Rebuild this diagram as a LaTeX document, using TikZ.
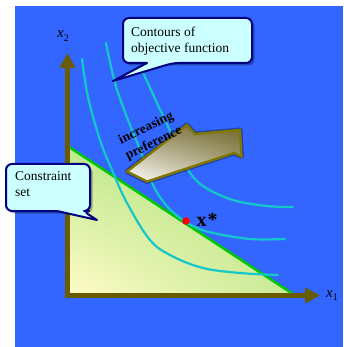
\documentclass[tikz,border=0pt]{standalone}
\usepackage{fontspec}
\setmainfont{Liberation Serif}
\usetikzlibrary{arrows.meta,shadings}
\definecolor{bgblue}{RGB}{51,102,255}
\definecolor{axisol}{RGB}{105,92,0}
\definecolor{contourc}{RGB}{20,200,200}
\definecolor{hypo}{RGB}{0,200,0}
\definecolor{callfill}{RGB}{204,255,255}
\definecolor{callline}{RGB}{0,0,128}
\definecolor{arrowline}{RGB}{128,118,0}
\definecolor{arrowdark}{RGB}{112,102,45}
\definecolor{arrowmidA}{RGB}{150,142,95}
\definecolor{arrowmidB}{RGB}{185,180,145}
\definecolor{csUL}{RGB}{192,232,142}
\definecolor{csLL}{RGB}{255,252,200}
\definecolor{csLR}{RGB}{200,234,150}
\definecolor{csUR}{RGB}{180,225,125}
\tikzset{
  contourline/.style={contourc, line width=2.2pt, line cap=round},
  calloutbox/.style={fill=callfill, draw=callline, line width=2pt, line join=round},
  calloutshadow/.style={fill=black, opacity=0.3},
  calltext/.style={anchor=base west, inner sep=0pt, font=\fontsize{13.5}{16}\selectfont},
  axislabel/.style={anchor=base west, inner sep=0pt, font=\fontsize{15}{15}\selectfont\itshape},
  axisline/.style={axisol, line width=4.6pt, line join=miter,
    {Triangle[length=15pt,width=15pt]}-{Triangle[length=15pt,width=15pt]}}
}
\begin{document}
\begin{tikzpicture}[x=1pt,y=-1pt]
\useasboundingbox (0,0) rectangle (343,347);
\fill[bgblue] (15,6) rectangle (343,347);

% constraint set
\shade[upper left=csUL, lower left=csLL, lower right=csLR, upper right=csUR]
  (69,147) -- (69,295) -- (293,295) -- cycle;
\draw[hypo, line width=2.5pt] (69,147) -- (293,294);

% contours
\draw[contourline] plot[smooth, tension=0.6] coordinates
  {(82,59) (88,97) (100,140) (112,170) (127,203) (150,240) (172,256) (203,268) (240,273) (278,275)};
\draw[contourline] plot[smooth, tension=0.6] coordinates
  {(106,43) (115,83) (128,120) (143,157) (152,183) (165,204) (180,218) (195,227) (213,233) (250,239) (285,239)};
\draw[contourline] plot[smooth, tension=0.6] coordinates
  {(141,68) (157,103) (172,135) (187,168) (203,186) (233,200) (267,206) (293,207)};

% axes
\draw[axisline] (67.5,53) -- (67.5,295.5) -- (320,295.5);
\node[axislabel] (x2) at (57,38) {x\raisebox{-3.5pt}{\fontsize{10}{10}\selectfont\upshape 2}};
\node[axislabel] (x1) at (326,297) {x\raisebox{-3.5pt}{\fontsize{10}{10}\selectfont\upshape 1}};

% preference arrow
\draw[black, opacity=0.35, line width=5pt, line join=round]
  (127,171.5) -- (187,125) -- (195,134) -- (240,130) -- (241.5,156.5) -- (234,153) -- (147,181.5) -- cycle;
\shade[upper right=arrowdark, upper left=arrowmidA, lower right=arrowmidB, lower left=white]
  (127,171.5) -- (187,125) -- (195,134) -- (240,130) -- (241.5,156.5) -- (234,153) -- (147,181.5) -- cycle;
\draw[arrowline, line width=2.4pt, line join=miter]
  (127,171.5) -- (187,125) -- (195,134) -- (240,130) -- (241.5,156.5) -- (234,153) -- (147,181.5) -- cycle;
\node[rotate=26, align=center, inner sep=0pt, font=\fontsize{13.5}{17}\selectfont\bfseries]
  (pref) at (150,136) {increasing\\preference};

% callout: contours
\fill[calloutshadow, rounded corners=6pt] (125.5,20.5) rectangle (254.5,65.5);
\draw[calloutbox, rounded corners=6pt]
  (190,18) -- (252,18) -- (252,63) -- (173,63) [sharp corners] -- (113,81) -- (147,63)
  [rounded corners=6pt] -- (123,63) -- (123,18) -- cycle;
\node[calltext] (c1a) at (131,36.7) {Contours of};
\node[calltext] (c1b) at (131,52.5) {objective function};

% callout: constraint set
\fill[calloutshadow, rounded corners=6pt] (8.5,166.5) rectangle (92.5,213.5);
\draw[calloutbox, rounded corners=6pt]
  (50,164) -- (90,164) -- (90,211) -- (83,211) [sharp corners] -- (97,220) -- (57,211)
  [rounded corners=6pt] -- (6,211) -- (6,164) -- cycle;
\node[calltext] (c2a) at (15,180.7) {Constraint};
\node[calltext] (c2b) at (15,196.7) {set};

% optimum
\fill[red] (186,221) circle (3.8pt);
\node[anchor=base west, inner sep=0pt, font=\fontsize{20}{20}\selectfont\bfseries]
  (xstar) at (196.5,226) {x\kern1pt*};
\end{tikzpicture}
\end{document}
